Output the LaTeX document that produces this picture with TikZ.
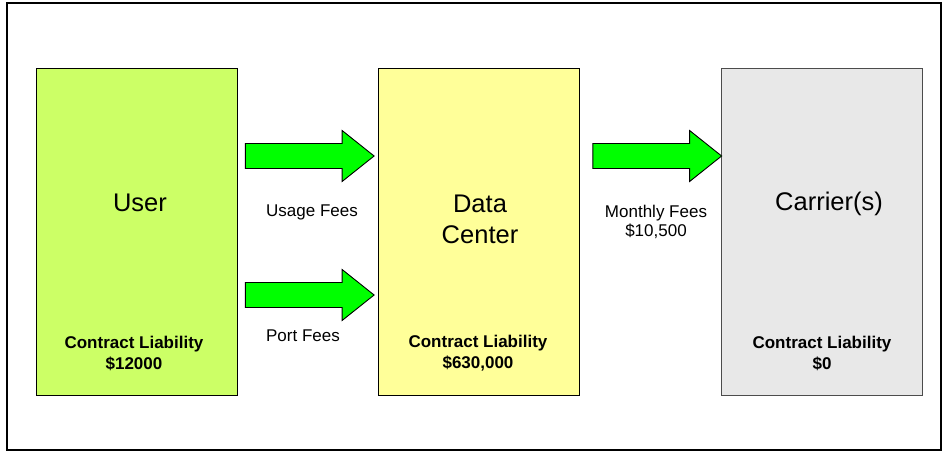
\documentclass[tikz,border=0pt]{standalone}
\usepackage{fontspec}
\setmainfont{Liberation Sans}
\usetikzlibrary{calc}
\definecolor{usergreen}{HTML}{CCFF66}
\definecolor{dcyellow}{HTML}{FFFF99}
\definecolor{carriergray}{HTML}{E8E8E8}
\definecolor{flowgreen}{HTML}{00FF00}
\tikzset{
  x=1pt, y=-1pt,
  party/.style={draw=black, line width=0.8pt, minimum width=201pt, minimum height=327pt, inner sep=0pt},
  title/.style={font=\fontsize{25.5}{31}\selectfont, align=center},
  liability/.style={font=\bfseries\fontsize{17}{21}\selectfont, align=center},
  feelabel/.style={font=\fontsize{17}{19}\selectfont, align=center},
  blockarrow/.style={draw=black, line width=0.9pt, fill=flowgreen, line join=miter},
}
% block arrow from #1 to tip #2 (horizontal): shaft half-height 12.5, head half-height 25.5, head length 32
\newcommand{\flowarrow}[2]{%
  \draw[blockarrow] let \p1=(#1), \p2=(#2) in
    (\x1,\y1-12.5) -- (\x2-32,\y1-12.5) -- (\x2-32,\y1-25.5) -- (\x2,\y1)
    -- (\x2-32,\y1+25.5) -- (\x2-32,\y1+12.5) -- (\x1,\y1+12.5) -- cycle;}
\begin{document}
\begin{tikzpicture}
  \useasboundingbox (0,0) rectangle (947,452);
  \node[draw=black, line width=2pt, minimum width=934pt, minimum height=447pt, inner sep=0pt] (frame) at (474,226.5) {};

  % the three parties
  \node[party, fill=usergreen] (user) at (136.5,231.5) {};
  \node[party, fill=dcyellow] (dc) at (479,231.5) {};
  \node[party, fill=carriergray, draw=black!70] (car) at (821.5,231.5) {};

  \node[title] (usert) at (140,203) {User};
  \node[title] (dct) at (480,219.5) {Data\\Center};
  \node[title] (cart) at (829,204) {Carrier(s)};

  \node[liability] (userl) at (134,353.5) {Contract Liability\\\$12000};
  \node[liability] (dcl) at (478,353.5) {Contract Liability\\\$630,000};
  \node[liability] (carl) at (822,353.5) {Contract Liability\\\$0};

  % money flows
  \coordinate (u1) at ($(user.east |- 0,156)+(8,0)$);
  \coordinate (d1) at ($(dc.west |- 0,156)+(-4,0)$);
  \coordinate (u2) at ($(user.east |- 0,295)+(8,0)$);
  \coordinate (d2) at ($(dc.west |- 0,295)+(-4,0)$);
  \coordinate (d3) at ($(dc.east |- 0,156)+(13,0)$);
  \coordinate (c3) at ($(car.west |- 0,156)+(1,0)$);
  \flowarrow{u1}{d1}
  \flowarrow{u2}{d2}
  \flowarrow{d3}{c3}

  \node[feelabel] (usage) at (312,212) {Usage Fees};
  \node[feelabel] (port) at (303,336) {Port Fees};
  \node[feelabel] (monthly) at (656,221.5) {Monthly Fees\\\$10,500};
\end{tikzpicture}
\end{document}
